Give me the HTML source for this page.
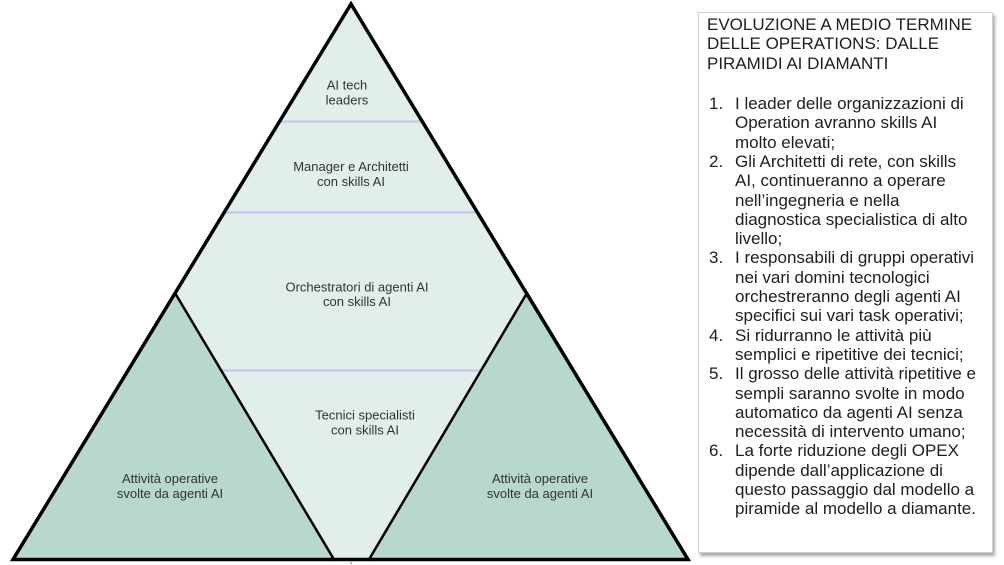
<!DOCTYPE html>
<html>
<head>
<meta charset="utf-8">
<style>
  html, body { margin:0; padding:0; background:#ffffff; }
  body { width:1004px; height:565px; position:relative; overflow:hidden; font-family:"Liberation Sans", Arial, sans-serif; }
  svg { position:absolute; left:0; top:0; }
  .box { position:absolute; left:698px; top:12px; width:293px; height:539px; background:#fff; border:1px solid #cfcfcf; box-shadow:2px 3px 3px rgba(0,0,0,0.35); }
  .ln { position:absolute; font-size:17px; line-height:19.3px; color:#1e1e1e; white-space:nowrap; }
  .num { left:709px; }
  .txt { left:735px; }
  .ttl { left:707px; }
</style>
</head>
<body>
<svg width="1004" height="565" viewBox="0 0 1004 565" xmlns="http://www.w3.org/2000/svg">
  <polygon points="351,4 13,559.5 688,559.5" fill="#e2eeeb"/>
  <line x1="279" y1="121.5" x2="423" y2="121.5" stroke="#c4c2ee" stroke-width="2"/>
  <line x1="224" y1="212.5" x2="478" y2="212.5" stroke="#c4c2ee" stroke-width="2"/>
  <line x1="221" y1="370.5" x2="481" y2="370.5" stroke="#c4c2ee" stroke-width="2"/>
  <polygon points="175,293 13,559.5 334,559.5" fill="#b8d8cf" stroke="#000" stroke-width="2.5" stroke-linejoin="miter"/>
  <polygon points="527,293 369,559.5 688,559.5" fill="#b8d8cf" stroke="#000" stroke-width="2.5" stroke-linejoin="miter"/>
  <polygon points="351,4 13,559.5 688,559.5" fill="none" stroke="#000" stroke-width="3.5" stroke-linejoin="miter"/>
  <line x1="351" y1="562" x2="351" y2="564" stroke="#777" stroke-width="1"/>
  <g font-family="Liberation Sans, Arial, sans-serif" font-size="13" fill="#333" text-anchor="middle">
    <text x="347" y="89.5">AI tech</text>
    <text x="347" y="104.5">leaders</text>
    <text x="351" y="171">Manager e Architetti</text>
    <text x="351" y="186">con skills AI</text>
    <text x="357" y="291.5">Orchestratori di agenti AI</text>
    <text x="357" y="306">con skills AI</text>
    <text x="365" y="419.5">Tecnici specialisti</text>
    <text x="365" y="434.5">con skills AI</text>
    <text x="170" y="483">Attività operative</text>
    <text x="170" y="498">svolte da agenti AI</text>
    <text x="540" y="483">Attività operative</text>
    <text x="540" y="498">svolte da agenti AI</text>
  </g>
</svg>

<div class="box"></div>

<div class="ln ttl" style="top:15px">EVOLUZIONE A MEDIO TERMINE</div>
<div class="ln ttl" style="top:34.3px">DELLE OPERATIONS: DALLE</div>
<div class="ln ttl" style="top:53.6px">PIRAMIDI AI DIAMANTI</div>

<div class="ln num" style="top:94px">1.</div>
<div class="ln txt" style="top:94px">I leader delle organizzazioni di</div>
<div class="ln txt" style="top:113.3px">Operation avranno skills AI</div>
<div class="ln txt" style="top:132.6px">molto elevati;</div>
<div class="ln num" style="top:151.9px">2.</div>
<div class="ln txt" style="top:151.9px">Gli Architetti di rete, con skills</div>
<div class="ln txt" style="top:171.2px">AI, continueranno a operare</div>
<div class="ln txt" style="top:190.5px">nell’ingegneria e nella</div>
<div class="ln txt" style="top:209.8px">diagnostica specialistica di alto</div>
<div class="ln txt" style="top:229.1px">livello;</div>
<div class="ln num" style="top:248.4px">3.</div>
<div class="ln txt" style="top:248.4px">I responsabili di gruppi operativi</div>
<div class="ln txt" style="top:267.7px">nei vari domini tecnologici</div>
<div class="ln txt" style="top:287px">orchestreranno degli agenti AI</div>
<div class="ln txt" style="top:306.3px">specifici sui vari task operativi;</div>
<div class="ln num" style="top:325.6px">4.</div>
<div class="ln txt" style="top:325.6px">Si ridurranno le attività più</div>
<div class="ln txt" style="top:344.9px">semplici e ripetitive dei tecnici;</div>
<div class="ln num" style="top:364.2px">5.</div>
<div class="ln txt" style="top:364.2px">Il grosso delle attività ripetitive e</div>
<div class="ln txt" style="top:383.5px">sempli saranno svolte in modo</div>
<div class="ln txt" style="top:402.8px">automatico da agenti AI senza</div>
<div class="ln txt" style="top:422.1px">necessità di intervento umano;</div>
<div class="ln num" style="top:441.4px">6.</div>
<div class="ln txt" style="top:441.4px">La forte riduzione degli OPEX</div>
<div class="ln txt" style="top:460.7px">dipende dall’applicazione di</div>
<div class="ln txt" style="top:480px">questo passaggio dal modello a</div>
<div class="ln txt" style="top:499.3px">piramide al modello a diamante.</div>
</body>
</html>
